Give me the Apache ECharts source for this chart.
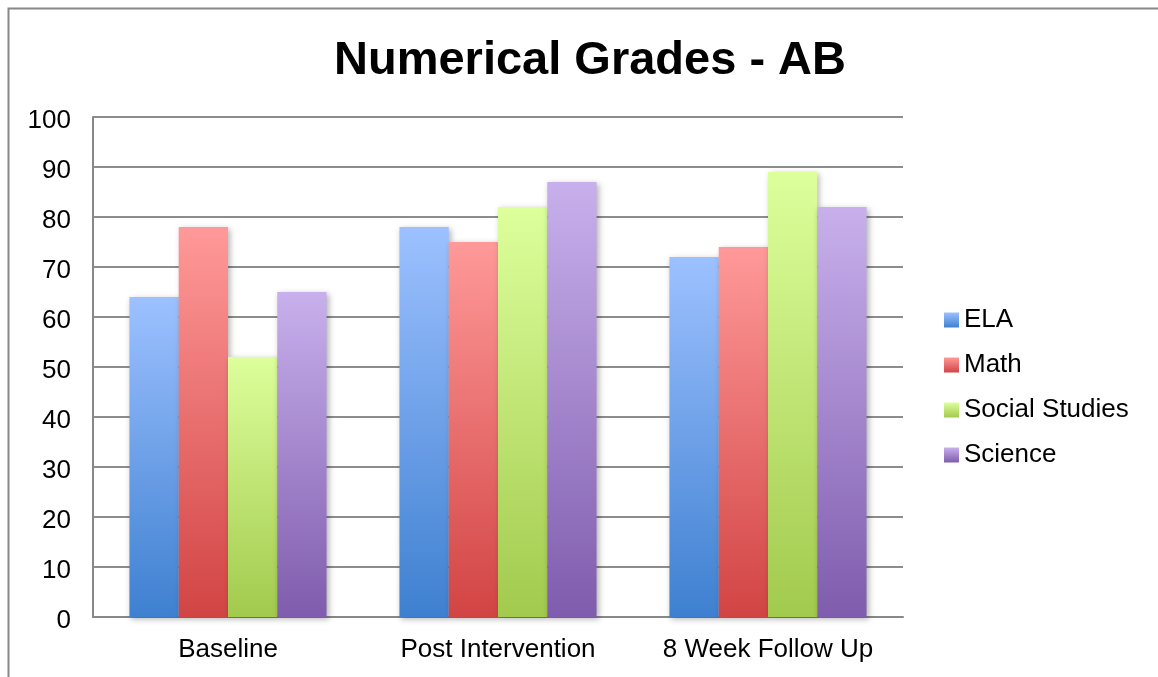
<!DOCTYPE html>
<html>
<head>
<meta charset="utf-8">
<script src="https://cdn.jsdelivr.net/npm/echarts@6/dist/echarts.min.js"></script>
<style>
  html, body { margin: 0; padding: 0; background: #fff; }
  #chart { width: 1158px; height: 677px; }
</style>
</head>
<body>
<div id="chart"></div>
<script>
  const categories = ['Baseline', 'Post Intervention', '8 Week Follow Up']
  const ela = [64, 78, 72]
  const math = [78, 75, 74]
  const socialStudies = [52, 82, 89]
  const science = [65, 87, 82]

  // top colour, bottom colour for each subject
  const colours = {
    ELA: ['#9dc1ff', '#3e80d0'],
    Math: ['#ff9999', '#d24444'],
    'Social Studies': ['#ddff9c', '#a2ca4d'],
    Science: ['#c8b0ec', '#7f5cad']
  }

  function grad(name) {
    return new echarts.graphic.LinearGradient(0, 0, 0, 1, [
      {offset: 0, color: colours[name][0]},
      {offset: 1, color: colours[name][1]}
    ])
  }

  function bar(name, data) {
    return {
      name: name,
      type: 'bar',
      data: data,
      barGap: '0%',
      barCategoryGap: '27%',
      itemStyle: {
        color: grad(name),
        shadowBlur: 6,
        shadowOffsetX: 2,
        shadowOffsetY: 2,
        shadowColor: 'rgba(0,0,0,0.3)'
      }
    }
  }

  const chart = echarts.init(document.getElementById('chart'))
  chart.setOption({
    animation: false,
    title: {
      text: 'Numerical Grades - AB',
      left: 585,
      textAlign: 'center',
      top: 33,
      textStyle: {
        fontFamily: 'Liberation Sans, Arial',
        fontSize: 47,
        fontWeight: 'bold',
        color: '#000'
      }
    },
    graphic: [{
      type: 'rect',
      shape: {x: 8.5, y: 8.5, width: 1300, height: 900},
      style: {fill: 'none', stroke: '#888', lineWidth: 2},
      silent: true
    }],
    legend: {
      orient: 'vertical',
      left: 939,
      top: 302,
      itemWidth: 15,
      itemHeight: 15,
      itemGap: 19,
      icon: 'rect',
      data: ['ELA', 'Math', 'Social Studies', 'Science'],
      textStyle: {
        fontFamily: 'Liberation Sans, Arial',
        fontSize: 26,
        color: '#000'
      }
    },
    grid: {
      left: 93,
      right: 255,
      top: 117,
      bottom: 60,
      containLabel: false
    },
    xAxis: {
      type: 'category',
      data: categories,
      axisTick: {show: false},
      axisLine: {lineStyle: {color: '#888', width: 2}},
      axisLabel: {
        interval: 0,
        hideOverlap: false,
        margin: 20,
        fontFamily: 'Liberation Sans, Arial',
        fontSize: 26,
        color: '#000'
      }
    },
    yAxis: {
      type: 'value',
      min: 0,
      max: 100,
      interval: 10,
      axisLine: {show: true, lineStyle: {color: '#888', width: 2}},
      axisTick: {show: false},
      splitLine: {lineStyle: {color: '#8c8c8c', width: 2}},
      axisLabel: {
        margin: 22,
        lineHeight: 32,
        verticalAlign: 'top',
        padding: [-12, 0, 0, 0],
        fontFamily: 'Liberation Sans, Arial',
        fontSize: 26,
        color: '#000'
      }
    },
    series: [
      bar('ELA', ela),
      bar('Math', math),
      bar('Social Studies', socialStudies),
      bar('Science', science)
    ]
  })
</script>
</body>
</html>
